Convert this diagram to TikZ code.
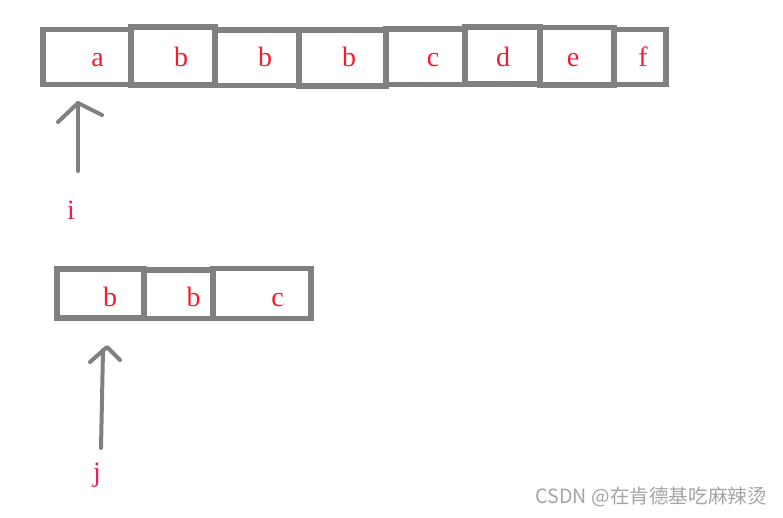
\documentclass[tikz,border=0pt]{standalone}
\usepackage{fontspec}
\setmainfont{Liberation Serif}
\newfontfamily\cjkwm{Noto Sans CJK SC}
\usetikzlibrary{arrows.meta}
\definecolor{boxgray}{RGB}{128,128,128}
\definecolor{letred}{RGB}{240,30,50}
\definecolor{letpink}{RGB}{232,32,90}
\definecolor{wmgray}{RGB}{165,165,165}
\tikzset{
  cell/.style={draw=boxgray, line width=5.5pt, rectangle, inner sep=0pt, outer sep=0pt},
  letter/.style={text=letred, font=\fontsize{28}{28}\selectfont, anchor=base, inner sep=0pt},
  idx/.style={letter, text=letpink},
  pointer/.style={draw=boxgray, line width=4pt, line cap=round, line join=round},
}
\begin{document}
\begin{tikzpicture}[x=1pt,y=-1pt]
\useasboundingbox[fill=white] (0,0) rectangle (783,517);
% top row
\node[cell, minimum width=88pt, minimum height=55pt] (t1) at (87,57) {};
\node[cell, minimum width=84pt, minimum height=58pt] (t2) at (173,56) {};
\node[cell, minimum width=84pt, minimum height=55.5pt] (t3) at (257,57.5) {};
\node[cell, minimum width=87pt, minimum height=56pt] (t4) at (342.5,58) {};
\node[cell, minimum width=79pt, minimum height=55.5pt] (t5) at (425.5,56.75) {};
\node[cell, minimum width=75pt, minimum height=57pt] (t6) at (502.5,55.5) {};
\node[cell, minimum width=74pt, minimum height=57.5pt] (t7) at (577,56.25) {};
\node[cell, minimum width=52pt, minimum height=55pt] (t8) at (640,57) {};
\node[letter] (la) at (97.5,66) {a};
\node[letter] (lb1) at (181,66) {b};
\node[letter] (lb2) at (265,66) {b};
\node[letter] (lb3) at (349,66) {b};
\node[letter] (lc) at (433,66) {c};
\node[letter] (ld) at (503,66) {d};
\node[letter] (le) at (573,66) {e};
\node[letter] (lf) at (643,66) {f};
% bottom row
\node[cell, minimum width=87pt, minimum height=49pt] (s1) at (100.5,293.5) {};
\node[cell, minimum width=69pt, minimum height=48.5pt] (s2) at (178.5,294.25) {};
\node[cell, minimum width=98pt, minimum height=50pt] (s3) at (262,293.5) {};
\node[letter] (mb1) at (110,306.5) {b};
\node[letter] (mb2) at (193.5,306.5) {b};
\node[letter] (mc) at (277.5,306.5) {c};
% index labels
\node[idx] (li) at (71,219) {i};
\node[idx] (lj) at (97,481) {j};
% pointer i
\coordinate (ibot) at (78,171);
\coordinate (itop) at (78,103);
\coordinate (ibl) at (58,122);
\coordinate (ibr) at (102,115);
\draw[pointer] (ibot) -- (itop);
\draw[pointer] (ibl) -- (itop) -- (ibr);
% pointer j
\coordinate (jbot) at (101,448);
\coordinate (jtop) at (103,350);
\coordinate (japex) at (107,347);
\coordinate (jbl) at (90,362);
\coordinate (jbr) at (120,360);
\draw[pointer] (jbot) -- (jtop);
\draw[pointer] (jbl) -- (japex) -- (jbr);
% watermark
\node[text=wmgray, font=\cjkwm\fontsize{19.6}{19.6}\selectfont, anchor=east, inner sep=0pt] (wm) at (767,497) {CSDN @在肯德基吃麻辣烫};
\end{tikzpicture}
\end{document}
